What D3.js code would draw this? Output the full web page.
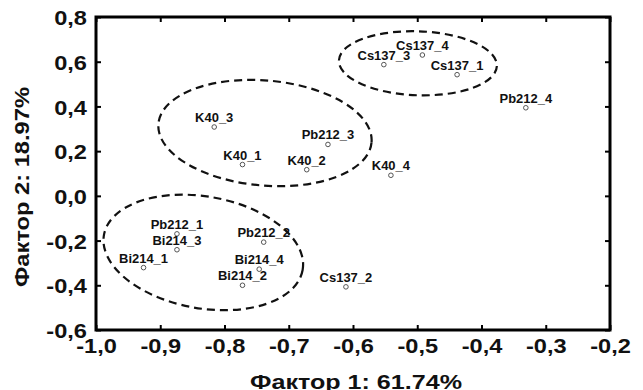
<!DOCTYPE html>
<html><head><meta charset="utf-8">
<script src="https://cdn.jsdelivr.net/npm/d3@7"></script>
<style>
body{margin:0;background:#fff}
svg{display:block}
text{font-family:"Liberation Sans",Arial,sans-serif;font-weight:bold;fill:#111}
</style>
</head><body>
<script>
// ---- data ----
const names = ["K40_1","K40_2","K40_3","K40_4","Cs137_1","Cs137_2","Cs137_3","Cs137_4",
               "Pb212_1","Pb212_2","Pb212_3","Pb212_4","Bi214_1","Bi214_2","Bi214_3","Bi214_4"];
const factor1 = [-0.772,-0.672,-0.816,-0.541,-0.438,-0.611,-0.552,-0.492,
                 -0.874,-0.739,-0.639,-0.331,-0.926,-0.772,-0.874,-0.746];
const factor2 = [0.140,0.117,0.308,0.092,0.542,-0.407,0.587,0.630,
                 -0.170,-0.207,0.230,0.394,-0.321,-0.400,-0.241,-0.328];
const xTicks = [-1.0,-0.9,-0.8,-0.7,-0.6,-0.5,-0.4,-0.3,-0.2];
const yTicks = [0.8,0.6,0.4,0.2,0.0,-0.2,-0.4,-0.6];
// cluster ellipses (data units)
const ellCx = [-0.833,-0.737,-0.499];
const ellCy = [-0.253, 0.281, 0.593];
const ellRx = [0.157, 0.1665, 0.123];
const ellRy = [0.250, 0.235, 0.143];
const ellAngle = [10, 5, 2];
const xTitle = "Фактор 1: 61.74%";
const yTitle = "Фактор 2: 18.97%";

// ---- layout ----
const W = 643, H = 390;
const L = 96, R = 610, T = 17, B = 330;
const x = d3.scaleLinear().domain([-1,-0.2]).range([L,R]);
const y = d3.scaleLinear().domain([-0.6,0.8]).range([B,T]);
const fmt = d => d3.format(".1f")(d).replace(".",",").replace("\u2212","-");

const svg = d3.select("body").append("svg").attr("width",W).attr("height",H);

function stretch(sel, k){
  sel.each(function(){
    const w = this.getComputedTextLength();
    this.setAttribute("textLength", w*k);
    this.setAttribute("lengthAdjust","spacingAndGlyphs");
  });
}

// ellipses
const ell = svg.append("g");
ellCx.forEach((cx,i)=>{
  const px = x(cx), py = y(ellCy[i]);
  ell.append("ellipse")
    .attr("cx",0).attr("cy",0)
    .attr("rx", x(cx+ellRx[i]) - px)
    .attr("ry", py - y(ellCy[i]+ellRy[i]))
    .attr("transform",`translate(${px},${py}) rotate(${ellAngle[i]})`)
    .attr("fill","none").attr("stroke","#111")
    .attr("stroke-width",2.2).attr("stroke-dasharray","8,5");
});

// axes with inward ticks on all sides
const tickStyle = g => {
  g.select(".domain").remove();
  g.selectAll(".tick line").attr("stroke","#000").attr("stroke-width",2);
};
svg.append("g").attr("transform",`translate(0,${B})`)
  .call(d3.axisBottom(x).tickValues(xTicks).tickSizeInner(-5).tickSizeOuter(0).tickFormat(fmt))
  .call(tickStyle)
  .call(g=>g.selectAll(".tick text").attr("y",23).attr("dy",0)
      .style("font-size","20px").attr("fill","#000"));
svg.append("g").attr("transform",`translate(${L},0)`)
  .call(d3.axisLeft(y).tickValues(yTicks).tickSizeInner(-5).tickSizeOuter(0).tickFormat(fmt))
  .call(tickStyle)
  .call(g=>g.selectAll(".tick text").attr("x",-9).attr("dy","0.38em")
      .style("font-size","20px").attr("fill","#000"));
svg.append("g").attr("transform",`translate(0,${T})`)
  .call(d3.axisTop(x).tickValues(xTicks).tickSizeInner(-5).tickSizeOuter(0).tickFormat(""))
  .call(tickStyle);
svg.append("g").attr("transform",`translate(${R},0)`)
  .call(d3.axisRight(y).tickValues(yTicks).tickSizeInner(-5).tickSizeOuter(0).tickFormat(""))
  .call(tickStyle);
svg.selectAll(".tick text").attr("font-family",null).call(stretch,1.18);

// frame
svg.append("rect").attr("x",L).attr("y",T).attr("width",R-L).attr("height",B-T)
  .attr("fill","none").attr("stroke","#000").attr("stroke-width",3);

// points + labels
const pts = svg.append("g");
names.forEach((n,i)=>{
  const px = x(factor1[i]), py = y(factor2[i]);
  pts.append("circle").attr("cx",px).attr("cy",py).attr("r",2.3)
    .attr("fill","#fff").attr("stroke","#555").attr("stroke-width",1);
  pts.append("text").attr("x",px).attr("y",py-5).attr("text-anchor","middle")
    .style("font-size","12px").text(n);
});
pts.selectAll("text").call(stretch,1.08);

// axis titles
svg.append("text").attr("x",356).attr("y",389).attr("text-anchor","middle")
  .style("font-size","21px").attr("textLength",212).attr("lengthAdjust","spacingAndGlyphs")
  .text(xTitle);
svg.append("text").attr("transform","translate(29,187) rotate(-90)").attr("text-anchor","middle")
  .style("font-size","20px").attr("textLength",200).attr("lengthAdjust","spacingAndGlyphs")
  .text(yTitle);
</script>
</body></html>
